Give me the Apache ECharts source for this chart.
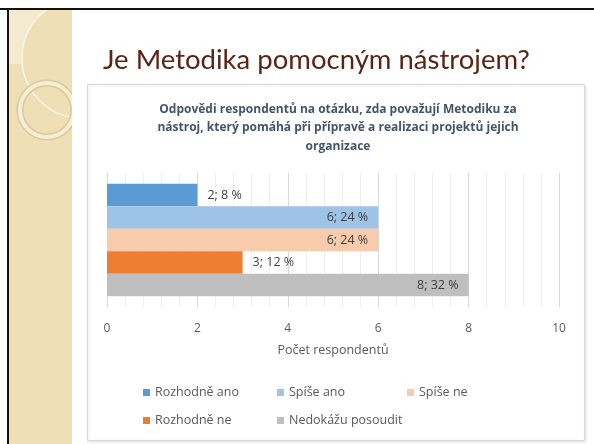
<!DOCTYPE html>
<html>
<head>
<meta charset="utf-8">
<script src="https://cdn.jsdelivr.net/npm/echarts@6/dist/echarts.min.js"></script>
<style>
  html, body { margin: 0; padding: 0; background: #fff; }
  #main { width: 594px; height: 444px; }
</style>
</head>
<body>
<div id="main"></div>
<script>
// odpovědi respondentů
var series_names = ['Rozhodně ano', 'Spíše ano', 'Spíše ne', 'Rozhodně ne', 'Nedokážu posoudit'];
var counts = [2, 6, 6, 3, 8];
var percents = [8, 24, 24, 12, 32];
var colors = ['#5b9bd5', '#9dc3e6', '#f8cbad', '#ed7d31', '#bfbfbf'];
var labelPos = ['right', 'insideRight', 'insideRight', 'right', 'insideRight'];
var xTicks = [0, 2, 4, 6, 8, 10];

var slideTitle = 'Je Metodika pomocným nástrojem?';
var chartTitle = 'Odpovědi respondentů na otázku, zda považují Metodiku za\nnástroj, který pomáhá při přípravě a realizaci projektů jejich\norganizace';

var font = '"Open Sans", "Noto Sans", sans-serif';
var chart = echarts.init(document.getElementById('main'));

var series = [];
for (var i = 0; i < series_names.length; i++) {
    series.push({
        name: series_names[i],
        type: 'bar',
        barGap: '0%',
        barCategoryGap: '16%',
        itemStyle: { color: colors[i] },
        label: {
            show: true,
            position: labelPos[i],
            distance: 10,
            color: '#404040',
            fontFamily: font,
            fontSize: 12.5,
            formatter: (function (k) {
                return function (p) { return p.value + '; ' + percents[k] + ' %'; };
            })(i)
        },
        data: [counts[i]]
    });
}

var option = {
    animation: false,
    backgroundColor: '#ffffff',
    graphic: [
        // levý pruh slidu
        { type: 'rect', shape: { x: 8, y: 9, width: 64, height: 435 }, style: { fill: '#eedfb6' }, z: -10 },
        { type: 'rect', shape: { x: 8, y: 9, width: 50, height: 55 }, style: { fill: '#f4ead0' }, z: -9 },
        { type: 'circle', shape: { cx: 82, cy: 58, r: 60 }, style: { fill: '#eedfb6', stroke: '#fbf5e6', lineWidth: 1.5 }, z: -8 },
        { type: 'circle', shape: { cx: 47, cy: 110, r: 27 }, style: { fill: 'none', stroke: '#dcc998', lineWidth: 7 }, z: -7 },
        { type: 'circle', shape: { cx: 47, cy: 110, r: 27 }, style: { fill: 'none', stroke: '#f8eed8', lineWidth: 4 }, z: -7 },
        { type: 'rect', shape: { x: 72, y: 9, width: 522, height: 435 }, style: { fill: '#ffffff' }, z: -6 },
        { type: 'rect', shape: { x: 0, y: 0, width: 594, height: 8 }, style: { fill: '#ffffff' }, z: -6 },
        { type: 'rect', shape: { x: 0, y: 0, width: 7, height: 444 }, style: { fill: '#ffffff' }, z: -6 },
        { type: 'rect', shape: { x: 0, y: 8, width: 594, height: 2 }, style: { fill: '#111111' }, z: -5 },
        { type: 'rect', shape: { x: 7, y: 8, width: 2, height: 436 }, style: { fill: '#111111' }, z: -5 },
        // rámeček grafu
        { type: 'rect', shape: { x: 87.5, y: 84.5, width: 497, height: 356 },
          style: { fill: '#ffffff', stroke: '#d9d9d9', lineWidth: 1, shadowBlur: 3, shadowColor: 'rgba(0,0,0,0.12)', shadowOffsetX: 1, shadowOffsetY: 1 }, z: -4 }
    ],
    title: [
        {
            text: slideTitle,
            left: 103, top: 46, padding: 0,
            textStyle: { color: '#5b2414', fontFamily: 'Lato, sans-serif', fontWeight: 'normal', fontSize: 27.5 }
        },
        {
            text: chartTitle,
            left: 338, top: 100, padding: 0, textAlign: 'center',
            textStyle: { color: '#44546a', fontFamily: font, fontWeight: 'bold', fontSize: 12, lineHeight: 18.5, align: 'center' }
        }
    ],
    legend: [
        { data: [series_names[0], series_names[3]], orient: 'vertical', left: 143, top: 386, padding: 0, itemGap: 15,
          icon: 'rect', itemWidth: 7, itemHeight: 7, textStyle: { color: '#595959', fontFamily: font, fontSize: 12.5 } },
        { data: [series_names[1], series_names[4]], orient: 'vertical', left: 277, top: 386, padding: 0, itemGap: 15,
          icon: 'rect', itemWidth: 7, itemHeight: 7, textStyle: { color: '#595959', fontFamily: font, fontSize: 12.5 } },
        { data: [series_names[2]], orient: 'vertical', left: 407, top: 386, padding: 0, itemGap: 15,
          icon: 'rect', itemWidth: 7, itemHeight: 7, textStyle: { color: '#595959', fontFamily: font, fontSize: 12.5 } }
    ],
    grid: { left: 107, right: 35, top: 173, bottom: 137, containLabel: false },
    xAxis: {
        type: 'value',
        min: xTicks[0],
        max: xTicks[xTicks.length - 1],
        interval: 2,
        name: 'Počet respondentů',
        nameLocation: 'middle',
        nameGap: 37,
        nameTextStyle: { color: '#595959', fontFamily: font, fontSize: 12.5 },
        axisLine: { show: false },
        axisTick: { show: false },
        axisLabel: { color: '#595959', fontFamily: font, fontSize: 12, margin: 16 },
        splitLine: { show: true, lineStyle: { color: '#d9d9d9', width: 1 } },
        minorTick: { show: false, splitNumber: 5 },
        minorSplitLine: { show: true, lineStyle: { color: '#efefef', width: 1 } }
    },
    yAxis: {
        type: 'category',
        data: [''],
        inverse: true,
        axisLine: { show: false },
        axisTick: { show: false },
        axisLabel: { show: false },
        splitLine: { show: false }
    },
    series: series
};

chart.setOption(option);
</script>
</body>
</html>
